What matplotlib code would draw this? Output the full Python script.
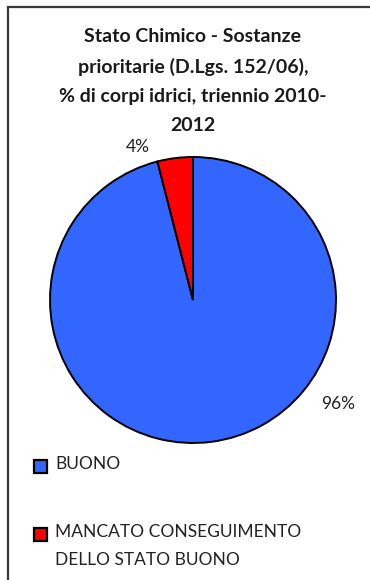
import matplotlib
matplotlib.use("Agg")
import matplotlib.pyplot as plt
from matplotlib.patches import Rectangle

# Data
categories = ["BUONO", "MANCATO CONSEGUIMENTO\nDELLO STATO BUONO"]
values = [96, 4]
colors = ["#3366FF", "#FF0000"]
title = "Stato Chimico - Sostanze\nprioritarie (D.Lgs. 152/06),\n% di corpi idrici, triennio 2010-\n2012"

W, H = 370, 580
fig = plt.figure(figsize=(W / 100, H / 100), dpi=100)
fig.patch.set_facecolor("white")

def px(x, y):
    return x / W, 1 - y / H

# Outer frame (runs off the right and bottom edges)
fig.patches.append(Rectangle(px(8, 700), 500 / W, (700 - 7) / H, transform=fig.transFigure,
                             fill=False, edgecolor="#3a3a3a", linewidth=1.6))

# Title
fig.text(*px(193, 81), title, ha="center", va="center", fontsize=14, fontweight="bold",
         family="Lato", color="#1a1a1a", linespacing=1.85)

# Pie
cx, cy, r = 193, 300, 143
ax = fig.add_axes([(cx - r) / W, (H - cy - r) / H, 2 * r / W, 2 * r / H])
wedges, _ = ax.pie(values, colors=colors, startangle=90, counterclock=False,
                   wedgeprops=dict(edgecolor="black", linewidth=1.4))
ax.set_xlim(-1, 1)
ax.set_ylim(-1, 1)
ax.set_aspect("equal")
ax.axis("off")

# Percentage labels
label_pos = [(1.014, -0.727), (-0.385, 1.07)]
for (lx, ly), v in zip(label_pos, values):
    ax.text(lx, ly, f"{v}%", ha="center", va="center", fontsize=12.5, family="Lato",
            color="#222222", clip_on=False)

# Legend
leg_y = [466, 534]
for c, lab, y in zip(colors, categories, leg_y):
    fig.patches.append(Rectangle(px(34, y + 6.5), 13 / W, 13 / H, transform=fig.transFigure,
                                 facecolor=c, edgecolor="black", linewidth=1.6))
    fig.text(*px(55, y - 10), lab, ha="left", va="top", fontsize=12.5, family="Lato",
             color="#222222", linespacing=1.95)

fig.savefig("out.png", dpi=100)
